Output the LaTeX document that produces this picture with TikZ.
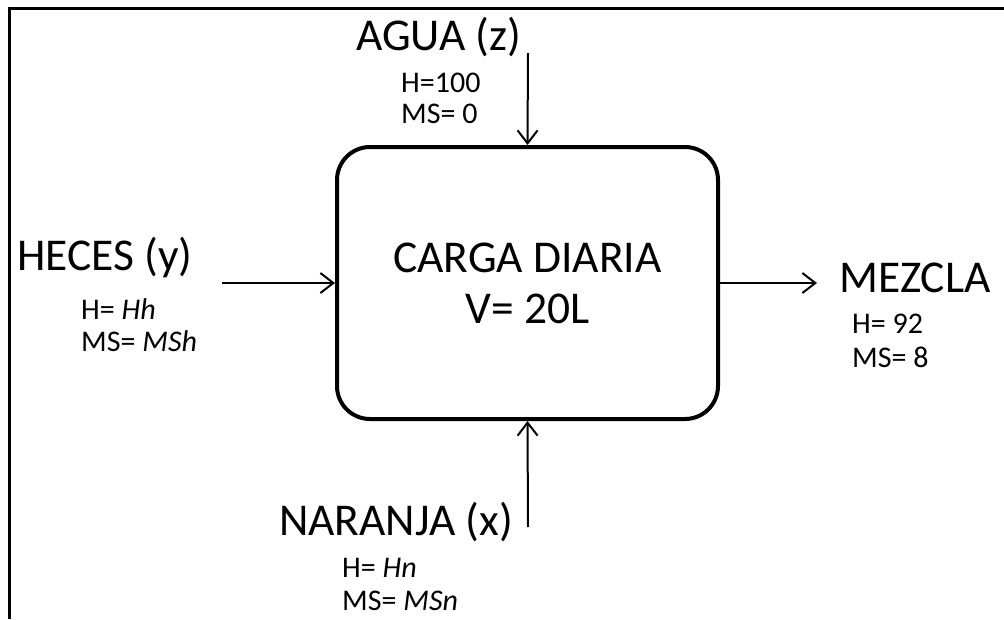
\documentclass[tikz,border=0pt]{standalone}
\usepackage{fontspec}
\setmainfont{Carlito}
\usetikzlibrary{arrows.meta}
\begin{document}
\begin{tikzpicture}[x=1pt,y=-1pt,
  bigtext/.style={font=\fontsize{45.5}{52}\selectfont, inner sep=0pt, anchor=base west},
  smalltext/.style={font=\fontsize{30}{33}\selectfont, inner sep=0pt, anchor=base west},
  flow/.style={line width=2pt, -{Straight Barb[length=13pt,width=20pt,line width=2pt]}},
  tank/.style={draw, line width=4pt, rounded corners=33pt, minimum width=381pt,
    minimum height=272pt, align=center, font=\fontsize{45.5}{51}\selectfont}]
  \useasboundingbox (0,0) rectangle (1004,619);
  % frame edges
  \draw[line width=3pt] (9,619) -- (9,8) -- (1004,8);

  % central tank
  \node[tank] (box) at (527.5,283) {CARGA DIARIA\\V= 20L};

  % water inlet
  \node[bigtext] (agua) at (356,50) {AGUA (z)};
  \node[smalltext] (aguaH) at (401,92) {H=100};
  \node[smalltext] (aguaMS) at (401,123) {MS= 0};
  \coordinate (aguaIn) at (528,53);
  \draw[flow] (aguaIn) -- (box.north);

  % faeces inlet
  \node[bigtext] (heces) at (17,270) {HECES (y)};
  \node[smalltext] (hecesH) at (81,319) {H= \textit{Hh}};
  \node[smalltext] (hecesMS) at (81,351) {MS= \textit{MSh}};
  \coordinate (hecesIn) at (222,283);
  \draw[flow] (hecesIn) -- (box.west);

  % mixture outlet
  \node[bigtext] (mezcla) at (839,292) {MEZCLA};
  \node[smalltext] (mezclaH) at (852,333) {H= 92};
  \node[smalltext] (mezclaMS) at (852,367) {MS= 8};
  \coordinate (mezclaOut) at (817,283);
  \draw[flow] (box.east) -- (mezclaOut);

  % orange inlet
  \node[bigtext] (naranja) at (279,535) {NARANJA (x)};
  \node[smalltext] (naranjaH) at (342,577) {H= \textit{Hn}};
  \node[smalltext] (naranjaMS) at (342,610) {MS= \textit{MSn}};
  \coordinate (naranjaIn) at (528,527);
  \draw[flow] (naranjaIn) -- (box.south);
\end{tikzpicture}
\end{document}
